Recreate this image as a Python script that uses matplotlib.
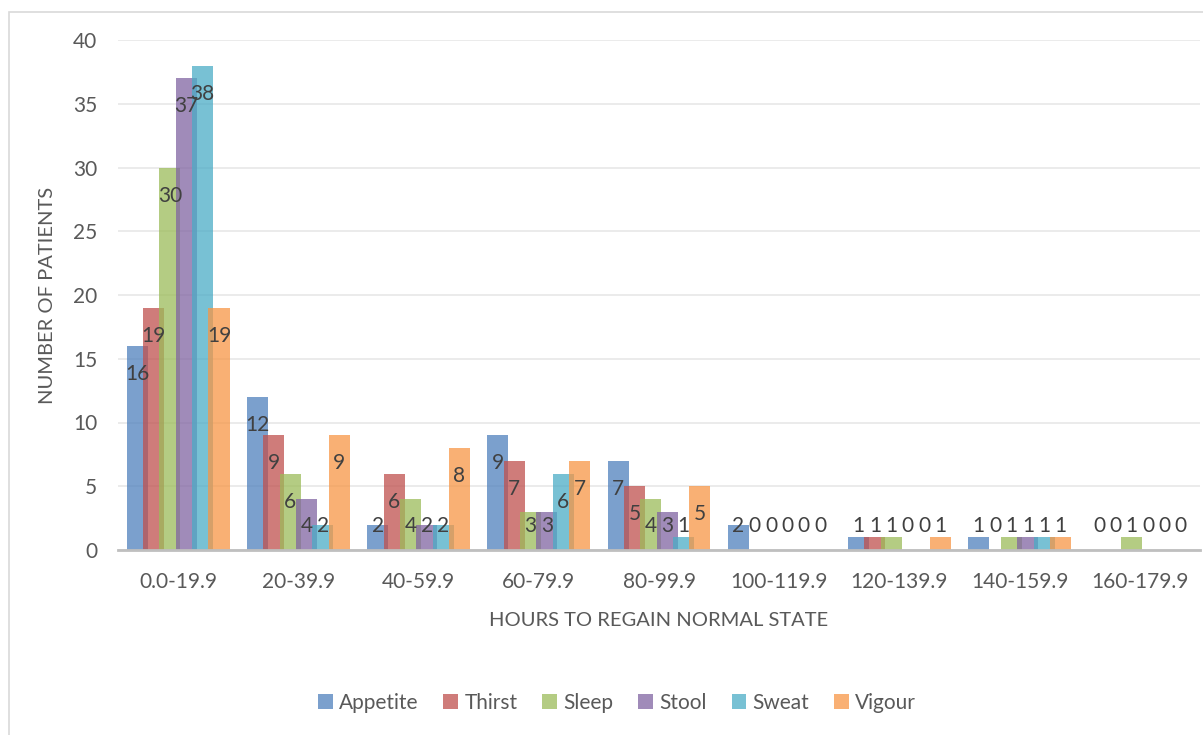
import matplotlib
matplotlib.use("Agg")
import matplotlib.pyplot as plt
import numpy as np
from matplotlib.patches import Rectangle

plt.rcParams['font.family'] = ['Lato', 'DejaVu Sans']

hour_bins = ["0.0-19.9", "20-39.9", "40-59.9", "60-79.9", "80-99.9",
             "100-119.9", "120-139.9", "140-159.9", "160-179.9"]

appetite = [16, 12, 2, 9, 7, 2, 1, 1, 0]
thirst = [19, 9, 6, 7, 5, 0, 1, 0, 0]
sleep = [30, 6, 4, 3, 4, 0, 1, 1, 1]
stool = [37, 4, 2, 3, 3, 0, 0, 1, 0]
sweat = [38, 2, 2, 6, 1, 0, 0, 1, 0]
vigour = [19, 9, 8, 7, 5, 0, 1, 1, 0]

series = [("Appetite", appetite, "#4F81BD"),
          ("Thirst", thirst, "#C0504D"),
          ("Sleep", sleep, "#9BBB59"),
          ("Stool", stool, "#8064A2"),
          ("Sweat", sweat, "#4BACC6"),
          ("Vigour", vigour, "#F79646")]

W, H = 1203, 735
fig = plt.figure(figsize=(W / 100, H / 100), dpi=100)
ax = fig.add_axes([118 / W, 1 - 550 / H, (1200 - 118) / W, (550 - 40) / H])

# outer chart frame
fig.patches.append(Rectangle((9 / W, -0.1), 1.2, 1.1 - 12 / H,
                             transform=fig.transFigure, fill=False,
                             edgecolor="#d9d9d9", linewidth=1.2))

x = np.arange(len(hour_bins))
step = 0.136
width = 0.175
text_col = "#595959"
label_col = "#404040"

for i, (name, vals, col) in enumerate(series):
    pos = x + (i - 2.5) * step
    ax.bar(pos, vals, width=width, color=col, alpha=0.75, label=name,
           edgecolor="none", zorder=2)
    for px, v in zip(pos, vals):
        ax.text(px, max(v - 2.2, 1.9), str(v), ha="center", va="center",
                fontsize=15, color=label_col, zorder=3)

ax.set_xlim(-0.5, len(hour_bins) - 0.5)
ax.set_ylim(0, 40)
ax.set_yticks(range(0, 41, 5))
ax.set_xticks(x)
ax.set_xticklabels(hour_bins)
ax.tick_params(length=0, labelsize=15, colors=text_col)
ax.tick_params(axis="y", pad=15)
ax.tick_params(axis="x", pad=16)
ax.grid(axis="y", color="#e8e8e8", linewidth=1.2, zorder=0)
for s in ["top", "right", "left"]:
    ax.spines[s].set_visible(False)
ax.spines["bottom"].set_color("#bfbfbf")
ax.spines["bottom"].set_linewidth(2)

ax.set_ylabel("NUMBER OF PATIENTS", fontsize=14.5, color=text_col, labelpad=12)
ax.set_xlabel("HOURS TO REGAIN NORMAL STATE", fontsize=14.5, color=text_col,
              labelpad=14)

fig.legend(loc="center", bbox_to_anchor=(617 / W, 1 - 703 / H), ncol=6,
           frameon=False, fontsize=15, handlelength=0.7, handleheight=0.7,
           handletextpad=0.3, columnspacing=1.2, labelcolor=text_col)

fig.savefig("out.png", dpi=100)
